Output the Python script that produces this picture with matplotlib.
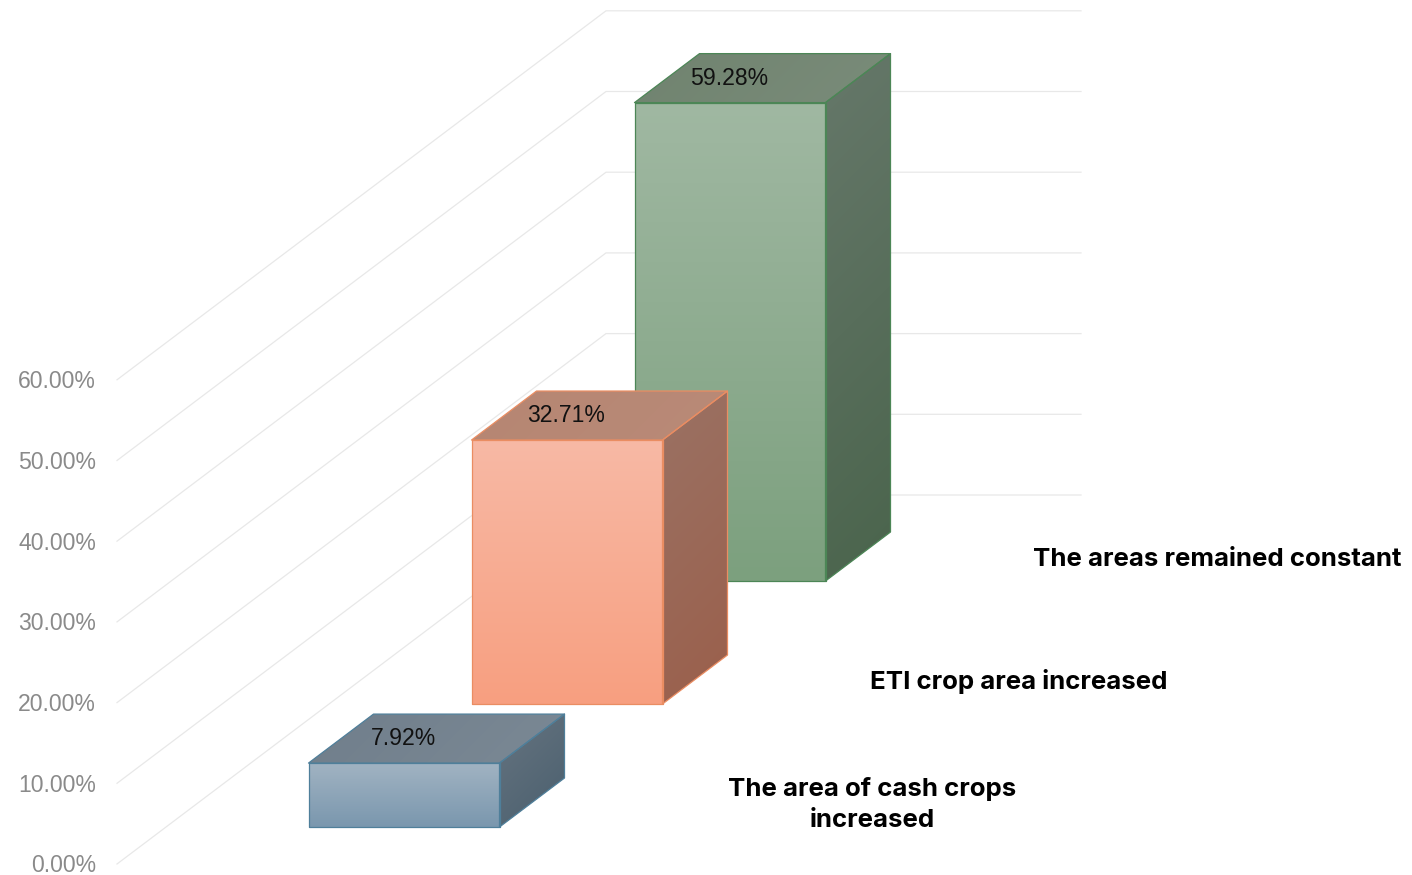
import numpy as np
import matplotlib
matplotlib.use("Agg")
import matplotlib.pyplot as plt
from matplotlib.patches import Polygon

# data, front to back
categories = ["The area of cash crops\nincreased", "ETI crop area increased", "The areas remained constant"]
values = [7.92, 32.71, 59.28]
value_labels = ["7.92%", "32.71%", "59.28%"]
ticks = [0, 10, 20, 30, 40, 50, 60]
tick_labels = ["0.00%", "10.00%", "20.00%", "30.00%", "40.00%", "50.00%", "60.00%"]

# colours of each bar: front top/bottom, side light/dark, top light/dark, edge
front_top = ["#a1b3c2", "#f8b9a5", "#a0b8a2"]
front_bottom = ["#7a97ae", "#f79f80", "#7ca07e"]
side_light = ["#667480", "#9a7264", "#66786a"]
side_dark = ["#4a5f6e", "#9b5f4b", "#4a644c"]
top_dark = ["#707e8b", "#b68672", "#70836f"]
top_light = ["#7b8995", "#b98a78", "#7a8c7a"]
edges = ["#4f7f9a", "#ea8d62", "#4c8656"]

# layout in pixels of the 1412x875 picture
px_per_unit = 8.07
zero_y = 864
wall_left = 117
depth_x = 489
depth_y = 369
bar_w = 191
bar_dx = 65
bar_dy = 49
bar_x = [308.5, 471.5, 634.5]
bar_base = [827, 704, 581]
cat_x = [872.5, 1019, 1217.5]
cat_y = [804.5, 682, 559]

fig = plt.figure(figsize=(14.12, 8.75), dpi=100)
ax = fig.add_axes([0, 0, 1, 1])
ax.set_xlim(0, 1412)
ax.set_ylim(875, 0)
ax.axis("off")


def gradient_face(pts, c1, c2, diagonal=False, zorder=3):
    # fill a polygon with a linear gradient, clipped to its outline
    pts = np.array(pts, dtype=float)
    x0, x1 = pts[:, 0].min(), pts[:, 0].max()
    y0, y1 = pts[:, 1].min(), pts[:, 1].max()
    yy, xx = np.mgrid[0:1:200j, 0:1:200j]
    if diagonal:
        t = (xx * (x1 - x0) + yy * (y1 - y0)) / ((x1 - x0) + (y1 - y0))
    else:
        t = yy
    a = np.array(matplotlib.colors.to_rgb(c1))
    b = np.array(matplotlib.colors.to_rgb(c2))
    img = a + (b - a) * t[..., None]
    im = ax.imshow(img, extent=(x0, x1, y1, y0), aspect="auto", zorder=zorder, interpolation="bilinear")
    poly = Polygon(pts, closed=True, transform=ax.transData, facecolor="none", edgecolor="none")
    ax.add_patch(poly)
    im.set_clip_path(poly)


# gridlines on the floor-to-wall surface
for i, t in enumerate(ticks):
    y = zero_y - t * px_per_unit
    ax.plot([wall_left, wall_left + depth_x, 1081], [y, y - depth_y, y - depth_y],
            color="#e8e8e8", lw=0.9, zorder=1, solid_joinstyle="miter")
    ax.text(96, y + 2, tick_labels[i], ha="right", va="center", color="#8a8a8a",
            fontsize=16.6, family="Liberation Sans")

# back bar first so the nearer ones cover it
for i in [2, 1, 0]:
    x0 = bar_x[i]
    x1 = x0 + bar_w
    yb = bar_base[i]
    yt = yb - values[i] * px_per_unit
    z = 3 + (2 - i)
    front = [(x0, yt), (x1, yt), (x1, yb), (x0, yb)]
    side = [(x1, yt), (x1 + bar_dx, yt - bar_dy), (x1 + bar_dx, yb - bar_dy), (x1, yb)]
    top = [(x0, yt), (x0 + bar_dx, yt - bar_dy), (x1 + bar_dx, yt - bar_dy), (x1, yt)]
    gradient_face(top, top_dark[i], top_light[i], diagonal=True, zorder=z)
    gradient_face(side, side_light[i], side_dark[i], diagonal=True, zorder=z)
    gradient_face(front, front_top[i], front_bottom[i], zorder=z)
    for pts in (top, side, front):
        ax.add_patch(Polygon(pts, closed=True, facecolor="none", edgecolor=edges[i],
                             lw=0.9, zorder=z + 0.5, joinstyle="round"))
    ax.text((x0 + x1) / 2 - 0.5, yt - 24.5, value_labels[i], ha="center", va="center", color="#111111",
            fontsize=16.6, family="Liberation Sans", zorder=10)
    ax.text(cat_x[i], cat_y[i], categories[i], ha="center", va="center", color="black",
            fontsize=18.6, family="Inter", fontweight="bold", linespacing=1.4, zorder=10)

ax.set_xlim(0, 1412)
ax.set_ylim(875, 0)
fig.savefig("out.png", dpi=100, facecolor="white")
